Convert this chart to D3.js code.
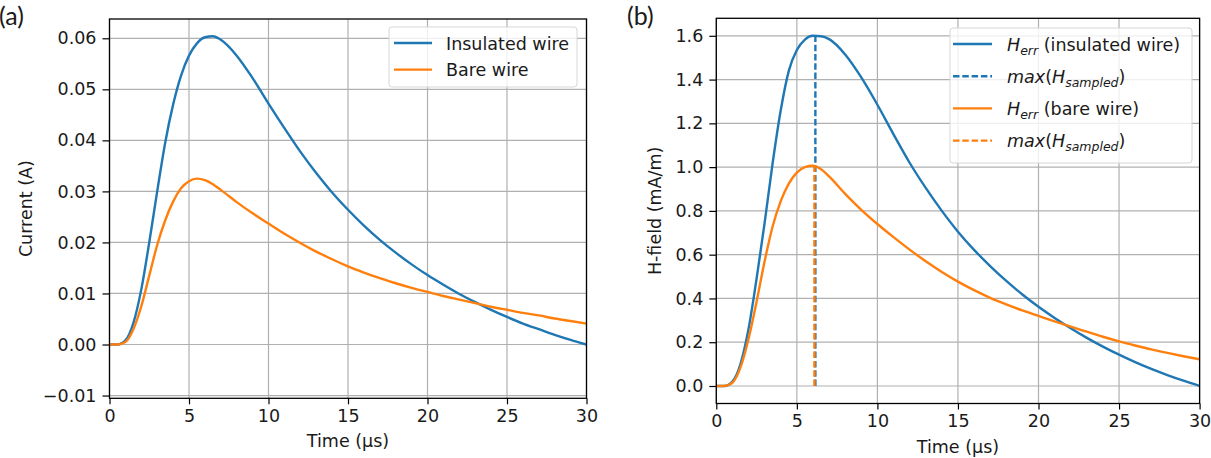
<!DOCTYPE html>
<html>
<head>
<meta charset="utf-8">
<script src="https://cdn.jsdelivr.net/npm/d3@7"></script>
<style>
  body { margin: 0; background: #fff; }
  text { font-family: "DejaVu Sans", sans-serif; fill: #1a1a1a; }
</style>
</head>
<body>
<script>
// time axis (µs), shared by all curves
let time = [0, 0.5, 1, 1.5, 2, 2.5, 3, 3.5, 4, 4.5, 5, 5.5, 6, 6.5, 7, 8, 9, 10, 11, 12, 13, 14, 15,
            16, 17, 18, 19, 20, 21, 22, 23, 24, 25, 26, 27, 28, 29, 30]

// panel (a): current in A
let currentInsulated = [0, 0, 0.0008, 0.0042, 0.0108, 0.020, 0.030, 0.0395, 0.0470, 0.0527, 0.0566, 0.0590,
    0.0602, 0.0604, 0.0597, 0.0566, 0.0522, 0.0472, 0.0424, 0.0378, 0.0336, 0.0298, 0.0264, 0.0233,
    0.0205, 0.0180, 0.0157, 0.0136, 0.0117, 0.0099, 0.0083, 0.0068, 0.0054, 0.0041, 0.0030, 0.0019, 0.0009, 0]
let currentBare = [0, 0, 0.0005, 0.0030, 0.0075, 0.0135, 0.0195, 0.0243, 0.0280, 0.0306, 0.0320, 0.0325,
    0.0322, 0.0314, 0.0303, 0.0279, 0.0257, 0.0237, 0.0217, 0.0199, 0.0182, 0.0167, 0.0153, 0.0141,
    0.0130, 0.0120, 0.0111, 0.0103, 0.0095, 0.0088, 0.0081, 0.0074, 0.0068, 0.0062, 0.0057, 0.0051, 0.0046, 0.0041]

// panel (b): H-field in mA/m
let hInsulated = [0, 0, 0.02, 0.10, 0.26, 0.49, 0.745, 1.02, 1.26, 1.44, 1.535, 1.583, 1.60, 1.598, 1.585,
    1.515, 1.41, 1.285, 1.15, 1.02, 0.905, 0.80, 0.705, 0.622, 0.548, 0.48, 0.418, 0.362, 0.311, 0.264,
    0.22, 0.18, 0.143, 0.109, 0.078, 0.050, 0.024, 0]
let hBare = [0, 0, 0.015, 0.085, 0.215, 0.385, 0.57, 0.73, 0.845, 0.925, 0.975, 1.0, 1.006, 0.99, 0.958,
    0.878, 0.805, 0.74, 0.68, 0.623, 0.57, 0.521, 0.477, 0.438, 0.403, 0.373, 0.345, 0.32, 0.295,
    0.271, 0.248, 0.225, 0.204, 0.185, 0.167, 0.151, 0.136, 0.122]

// sampled maxima shown as dashed verticals in (b)
let peakTime = [6.15, 6.09]
let peakValue = [1.6, 1.005]

let xTicks = [0, 5, 10, 15, 20, 25, 30]
let currentTicks = [-0.01, 0, 0.01, 0.02, 0.03, 0.04, 0.05, 0.06]
let hTicks = [0, 0.2, 0.4, 0.6, 0.8, 1.0, 1.2, 1.4, 1.6]

let blue = '#1f77b4'
let orange = '#ff7f0e'
let fontSize = '17.5px'

let svg = d3.select('body').append('svg')
    .attr('width', 1211)
    .attr('height', 458)

// draws one axes box with grid, ticks and labels, returns scales + group
function drawAxes(opt) {
    let xScale = d3.scaleLinear().domain([0, 30]).range([opt.left, opt.right])
    let yScale = d3.scaleLinear().domain(opt.yDomain).range([opt.bottom, opt.top])
    let g = svg.append('g')

    // grid
    g.selectAll('.vgrid').data(xTicks).enter().append('line')
        .attr('x1', d => xScale(d)).attr('x2', d => xScale(d))
        .attr('y1', opt.top).attr('y2', opt.bottom)
        .attr('stroke', '#b0b0b0').attr('stroke-width', 1.2)
    g.selectAll('.hgrid').data(opt.yTicks).enter().append('line')
        .attr('x1', opt.left).attr('x2', opt.right)
        .attr('y1', d => yScale(d)).attr('y2', d => yScale(d))
        .attr('stroke', '#b0b0b0').attr('stroke-width', 1.2)

    let xAxis = d3.axisBottom(xScale).tickValues(xTicks).tickSize(6).tickPadding(5).tickFormat(d3.format('d'))
    let yAxis = d3.axisLeft(yScale).tickValues(opt.yTicks).tickSize(7).tickPadding(6).tickFormat(d3.format(opt.fmt))

    let gx = g.append('g').attr('transform', `translate(0,${opt.bottom})`).call(xAxis)
    let gy = g.append('g').attr('transform', `translate(${opt.left},0)`).call(yAxis)
    for (let a of [gx, gy]) {
        a.select('.domain').remove()
        a.selectAll('line').attr('stroke', '#000').attr('stroke-width', 1.2)
        a.selectAll('text').style('font-size', fontSize).attr('fill', '#1a1a1a')
    }

    g.append('text')
        .attr('x', (opt.left + opt.right) / 2).attr('y', opt.bottom + 49)
        .attr('text-anchor', 'middle').style('font-size', fontSize)
        .text('Time (µs)')
    g.append('text')
        .attr('transform', `translate(${opt.yLabelX},${(opt.top + opt.bottom) / 2}) rotate(-90)`)
        .attr('text-anchor', 'middle').style('font-size', fontSize)
        .text(opt.yLabel)

    g.append('text')
        .attr('x', opt.tagX).attr('y', 25)
        .style('font-family', 'Lato, "Open Sans", sans-serif').style('font-size', '25px')
        .text(opt.tag)

    return { xScale, yScale, g, opt }
}

function frame(ax) {
    let o = ax.opt
    ax.g.append('rect')
        .attr('x', o.left).attr('y', o.top)
        .attr('width', o.right - o.left).attr('height', o.bottom - o.top)
        .attr('fill', 'none').attr('stroke', '#000').attr('stroke-width', 1.3)
}

function drawCurve(ax, values, color) {
    let line = d3.line()
        .x((d, i) => ax.xScale(time[i]))
        .y(d => ax.yScale(d))
        .curve(d3.curveMonotoneX)
    ax.g.append('path')
        .datum(values)
        .attr('d', line)
        .attr('fill', 'none')
        .attr('stroke', color)
        .attr('stroke-width', 2.4)
}

/******** panel (a) ********/
let axA = drawAxes({
    left: 109.5, right: 586.5, top: 19, bottom: 398.3,
    yDomain: [-0.01054, 0.06378], yTicks: currentTicks, fmt: '.2f',
    yLabel: 'Current (A)', yLabelX: 32, tag: '(a)', tagX: -1
})
drawCurve(axA, currentInsulated, blue)
drawCurve(axA, currentBare, orange)
frame(axA)

// legend (a)
let legA = axA.g.append('g').attr('transform', 'translate(389,27)')
legA.append('rect').attr('width', 188).attr('height', 60).attr('rx', 3)
    .attr('fill', 'white').attr('fill-opacity', 0.8).attr('stroke', '#d6d6d6')
let legItemsA = [['Insulated wire', blue], ['Bare wire', orange]]
legItemsA.forEach((d, i) => {
    let y = 16 + i * 26.6
    legA.append('line').attr('x1', 5).attr('x2', 43).attr('y1', y).attr('y2', y)
        .attr('stroke', d[1]).attr('stroke-width', 2.4)
    legA.append('text').attr('x', 57).attr('y', y + 6.5).style('font-size', fontSize).text(d[0])
})

/******** panel (b) ********/
let axB = drawAxes({
    left: 716.3, right: 1199.6, top: 18.3, bottom: 403.5,
    yDomain: [-0.08, 1.68], yTicks: hTicks, fmt: '.1f',
    yLabel: 'H-field (mA/m)', yLabelX: 661, tag: '(b)', tagX: 627
})
drawCurve(axB, hInsulated, blue)
// dashed sampled maxima (blue first, orange drawn after the orange curve)
axB.g.append('line')
    .attr('x1', axB.xScale(peakTime[0])).attr('x2', axB.xScale(peakTime[0]))
    .attr('y1', axB.yScale(0)).attr('y2', axB.yScale(peakValue[0]))
    .attr('stroke', blue).attr('stroke-width', 2.4).attr('stroke-dasharray', '6.5,2.8')
drawCurve(axB, hBare, orange)
axB.g.append('line')
    .attr('x1', axB.xScale(peakTime[1])).attr('x2', axB.xScale(peakTime[1]))
    .attr('y1', axB.yScale(0)).attr('y2', axB.yScale(peakValue[1]))
    .attr('stroke', orange).attr('stroke-width', 2.4).attr('stroke-dasharray', '6.5,2.8')
frame(axB)

// legend (b), mathtext-like labels
let legB = axB.g.append('g').attr('transform', 'translate(950,28)')
legB.append('rect').attr('width', 242).attr('height', 135).attr('rx', 3)
    .attr('fill', 'white').attr('fill-opacity', 0.8).attr('stroke', '#d6d6d6')
let legItemsB = [
    { kind: 'err', rest: ' (insulated wire)', color: blue, dash: null },
    { kind: 'max', color: blue, dash: '6.5,2.8' },
    { kind: 'err', rest: ' (bare wire)', color: orange, dash: null },
    { kind: 'max', color: orange, dash: '6.5,2.8' }
]
legItemsB.forEach((d, i) => {
    let y = 16 + i * 32.2
    legB.append('line').attr('x1', 3).attr('x2', 42).attr('y1', y).attr('y2', y)
        .attr('stroke', d.color).attr('stroke-width', 2.4)
        .attr('stroke-dasharray', d.dash)
    let t = legB.append('text').attr('x', 57).attr('y', y + 6.5).style('font-size', fontSize)
    if (d.kind === 'err') {
        t.append('tspan').style('font-style', 'italic').text('H')
        t.append('tspan').style('font-style', 'italic').style('font-size', '12.5px').attr('dy', 4).text('err')
        t.append('tspan').attr('dy', -4).text(d.rest)
    } else {
        t.append('tspan').style('font-style', 'italic').text('max')
        t.append('tspan').text('(')
        t.append('tspan').style('font-style', 'italic').text('H')
        t.append('tspan').style('font-style', 'italic').style('font-size', '12.5px').attr('dy', 4).text('sampled')
        t.append('tspan').attr('dy', -4).text(')')
    }
})
</script>
</body>
</html>
